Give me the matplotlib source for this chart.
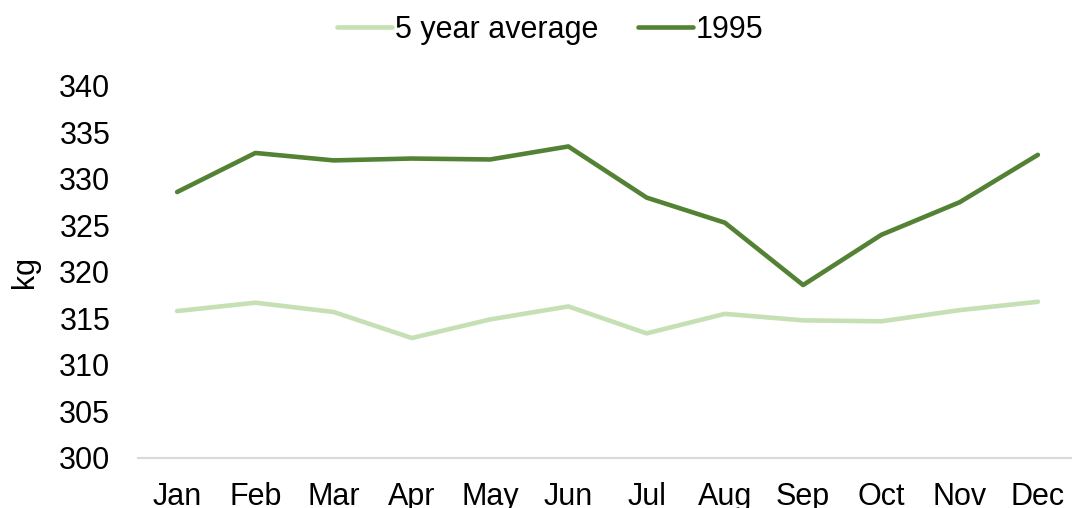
import matplotlib.pyplot as plt

months = ["Jan", "Feb", "Mar", "Apr", "May", "Jun",
          "Jul", "Aug", "Sep", "Oct", "Nov", "Dec"]
avg_5yr = [315.8, 316.7, 315.7, 312.9, 314.9, 316.3,
           313.4, 315.5, 314.8, 314.7, 315.9, 316.8]
y1995 = [328.6, 332.8, 332.0, 332.2, 332.1, 333.5,
         328.0, 325.3, 318.6, 324.0, 327.5, 332.6]
yticks = [300, 305, 310, 315, 320, 325, 330, 335, 340]

plt.rcParams['font.family'] = ['Liberation Sans', 'DejaVu Sans']

fig = plt.figure(figsize=(10.72, 5.08), dpi=100)
# plot area in pixels: x 138..1077, y 86..458 (image height 508)
ax = fig.add_axes([138 / 1072, (508 - 458) / 508, (1077 - 138) / 1072, (458 - 86) / 508])

x = range(len(months))
ax.plot(x, avg_5yr, color="#C5E0B4", lw=3.3, solid_capstyle="round", label="5 year average")
ax.plot(x, y1995, color="#548235", lw=3.3, solid_capstyle="round", label="1995")

ax.set_xlim(-0.5, len(months) - 0.5)
ax.set_ylim(300, 340)
ax.set_yticks(yticks)
ax.set_xticks(list(x))
ax.set_xticklabels(months)
ax.tick_params(axis="both", length=0, labelsize=22, colors="black")
ax.tick_params(axis="y", pad=20)
ax.tick_params(axis="x", pad=17)
ax.set_ylabel("kg", fontsize=22, labelpad=14)

for s in ["top", "right", "left"]:
    ax.spines[s].set_visible(False)
ax.spines["bottom"].set_color("#D9D9D9")
ax.spines["bottom"].set_linewidth(1.5)

fig.legend(loc="upper center", bbox_to_anchor=(0.513, 1.025), ncol=2, frameon=False,
           fontsize=22, handlelength=1.8, handletextpad=0.1, columnspacing=1.3)

fig.savefig("out.png", dpi=100)
